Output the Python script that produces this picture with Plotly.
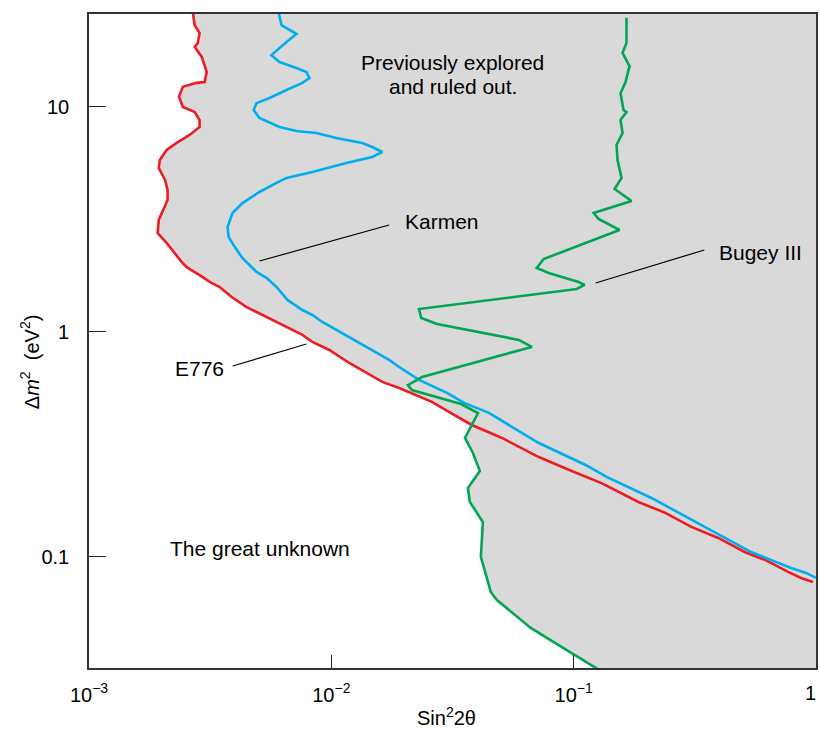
import math
import plotly.graph_objects as go

# ---------------- data ----------------
# E776 (red) exclusion contour
e776_sin2 = [2.68e-3, 2.73e-3, 2.86e-3, 2.81e-3, 2.73e-3, 2.92e-3, 3.06e-3, 3.00e-3, 2.78e-3, 2.44e-3,
             2.35e-3, 2.44e-3, 2.73e-3, 2.86e-3, 2.86e-3, 2.60e-3, 2.30e-3, 2.09e-3, 1.96e-3, 1.94e-3,
             2.06e-3, 2.11e-3, 2.11e-3, 2.00e-3, 1.94e-3, 1.92e-3, 2.09e-3, 2.41e-3, 2.53e-3, 2.86e-3,
             3.15e-3, 3.46e-3, 3.88e-3, 4.47e-3, 5.40e-3, 6.29e-3, 7.60e-3, 8.35e-3, 9.81e-3, 0.01186,
             0.01393, 0.01622, 0.01905, 0.0260, 0.0321, 0.0380, 0.0506, 0.0718, 0.0981, 0.1303,
             0.185, 0.239, 0.306, 0.395, 0.510, 0.617, 0.767, 0.868, 0.972]
e776_dm2 = [26.5, 23.1, 21.3, 19.2, 18.5, 16.7, 14.3, 12.9, 12.8, 12.3,
            11.1, 10.0, 9.50, 8.75, 8.15, 7.51, 6.92, 6.44, 5.81, 5.36,
            4.74, 4.28, 3.86, 3.42, 3.15, 2.75, 2.49, 2.05, 1.94, 1.79,
            1.67, 1.585, 1.43, 1.29, 1.166, 1.074, 0.970, 0.903, 0.832, 0.728,
            0.657, 0.600, 0.564, 0.489, 0.428, 0.386, 0.338, 0.278, 0.241, 0.213,
            0.1755, 0.157, 0.136, 0.1215, 0.105, 0.0970, 0.0858, 0.0807, 0.0774]

# Karmen (blue) exclusion contour
karmen_sin2 = [6.05e-3, 6.23e-3, 7.18e-3, 6.53e-3, 5.66e-3, 6.11e-3, 7.18e-3, 7.89e-3, 8.12e-3, 7.60e-3,
               6.53e-3, 5.56e-3, 4.91e-3, 4.78e-3, 5.05e-3, 6.11e-3, 7.18e-3, 8.68e-3, 0.01048, 0.01341,
               0.01475, 0.01622, 0.01475, 0.01153, 8.35e-3, 6.53e-3, 5.94e-3, 5.05e-3, 4.30e-3, 3.91e-3,
               3.73e-3, 3.77e-3, 3.99e-3, 4.30e-3, 4.91e-3, 5.40e-3, 5.94e-3, 6.59e-3, 7.60e-3, 8.35e-3,
               9.18e-3, 0.0100, 0.0111, 0.01303, 0.01532, 0.01732, 0.01905, 0.0230, 0.0300, 0.0353,
               0.0447, 0.0718, 0.1120, 0.1367, 0.2094, 0.3493, 0.540, 0.789, 0.910, 1.0]
karmen_dm2 = [26.5, 23.1, 21.1, 19.45, 17.0, 15.85, 14.9, 14.3, 13.45, 12.8,
              11.9, 10.96, 10.4, 9.70, 8.93, 8.15, 7.82, 7.66, 7.28, 6.92,
              6.64, 6.31, 6.00, 5.64, 5.14, 4.84, 4.60, 4.19, 3.74, 3.38,
              2.93, 2.64, 2.39, 2.13, 1.85, 1.74, 1.585, 1.388, 1.252, 1.19,
              1.108, 1.052, 0.990, 0.894, 0.815, 0.751, 0.699, 0.612, 0.536, 0.484,
              0.437, 0.321, 0.2564, 0.2268, 0.1829, 0.136, 0.1052, 0.0894, 0.0849, 0.0807]

# Bugey III (green) exclusion contour
bugey_sin2 = [0.1652, 0.1652, 0.1591, 0.1700, 0.1637, 0.1561, 0.1606, 0.1652, 0.1561, 0.1591,
              0.1503, 0.1517, 0.1576, 0.1475, 0.1733, 0.1209, 0.1267, 0.1546, 0.0752, 0.0704,
              0.0789, 0.1048, 0.1110, 0.1029, 0.0230, 0.0235, 0.0273, 0.0594, 0.0672, 0.0237,
              0.0207, 0.0215, 0.0343, 0.0403, 0.0356, 0.0384, 0.0410, 0.0366, 0.0373, 0.0422,
              0.0414, 0.0455, 0.0482, 0.0665, 0.0981, 0.1303]
bugey_dm2 = [24.9, 19.25, 17.4, 15.2, 12.9, 11.5, 9.70, 9.50, 8.75, 7.66,
             6.78, 5.81, 4.84, 4.32, 3.82, 3.38, 3.18, 2.84, 2.11, 1.925,
             1.83, 1.668, 1.618, 1.553, 1.265, 1.154, 1.085, 0.922, 0.858, 0.631,
             0.581, 0.552, 0.4786, 0.4365, 0.338, 0.290, 0.241, 0.2026, 0.1755, 0.143,
             0.100, 0.0699, 0.0644, 0.0484, 0.0374, 0.031]

# axis ranges and tick labels
x_range = [1e-3, 1.0]
y_range = [0.0321, 25.9]
x_tickvals = [1e-3, 1e-2, 1e-1, 1]
x_ticktext = ["10<sup>\u22123</sup>", "10<sup>\u22122</sup>", "10<sup>\u22121</sup>", "1"]
y_tickvals = [0.1, 1, 10]
y_ticktext = ["0.1", "1", "10"]

# index where the red E776 contour meets the green Bugey contour (boundary of the shaded area)
red_cut = 46
green_cut = 34

RED = "#ed1c24"
BLUE = "#00aeef"
GREEN = "#00a651"
GRAY = "#d9d9d9"
FONT = "Liberation Sans, Arial, sans-serif"

fig = go.Figure()

# shaded "previously explored" region: right of the red contour, then right of the green one
fill_x = e776_sin2[:red_cut] + bugey_sin2[green_cut:] + [x_range[1] * 1.05, x_range[1] * 1.05]
fill_y = e776_dm2[:red_cut] + bugey_dm2[green_cut:] + [y_range[0] * 0.9, y_range[1] * 1.1]
fig.add_trace(go.Scatter(x=fill_x, y=fill_y, mode="lines", fill="toself",
                         fillcolor=GRAY, line=dict(width=0), hoverinfo="skip", showlegend=False))

fig.add_trace(go.Scatter(x=e776_sin2, y=e776_dm2, mode="lines", name="E776",
                         line=dict(color=RED, width=2.6), showlegend=False))
fig.add_trace(go.Scatter(x=karmen_sin2, y=karmen_dm2, mode="lines", name="Karmen",
                         line=dict(color=BLUE, width=2.6), showlegend=False))
fig.add_trace(go.Scatter(x=bugey_sin2, y=bugey_dm2, mode="lines", name="Bugey III",
                         line=dict(color=GREEN, width=2.6), showlegend=False))

# plot area in pixels: x 89..818, y 14..668
L, R, T, B = 89, 818, 14, 668
W, H = R - L, B - T


def px(xp):
    return (xp - L) / W


def py(yp):
    return (B - yp) / H


# leader lines for labels
for (x0, y0, x1, y1) in [(260, 261, 390, 225), (233, 366, 307, 344), (597, 283, 706, 250)]:
    fig.add_shape(type="line", xref="paper", yref="paper",
                  x0=px(x0), y0=py(y0), x1=px(x1), y1=py(y1),
                  line=dict(color="black", width=1.2))

labels = [
    ("Previously explored", 453, 62),
    ("and ruled out.", 454, 87),
    ("Karmen", 443, 221),
    ("Bugey III", 762, 252),
    ("E776", 200, 368),
    ("The great unknown", 260, 548),
]
for txt, xp, yp in labels:
    fig.add_annotation(text=txt, xref="paper", yref="paper", x=px(xp), y=py(yp),
                       showarrow=False, xanchor="center", yanchor="middle",
                       font=dict(family=FONT, size=21, color="black"))

# y axis title (rotated)
fig.add_annotation(text="\u0394<i>m</i><sup>2</sup>  (eV<sup>2</sup>)", xref="paper", yref="paper",
                   x=px(30), y=py(362), showarrow=False, textangle=-90,
                   xanchor="center", yanchor="middle",
                   font=dict(family=FONT, size=20, color="black"))
# x axis title
fig.add_annotation(text="Sin<sup>2</sup>2\u03b8", xref="paper", yref="paper",
                   x=px(447), y=py(716), showarrow=False,
                   xanchor="center", yanchor="middle",
                   font=dict(family=FONT, size=20, color="black"))

# last x tick label sits on the right edge of the figure; the axis hides it, so pin it inside
fig.add_annotation(text=x_ticktext[-1], xref="paper", yref="paper",
                   x=px(820), y=py(693), showarrow=False,
                   xanchor="right", yanchor="middle",
                   font=dict(family=FONT, size=20, color="black"))

axis_common = dict(showgrid=False, zeroline=False, showline=True, linecolor="#333333",
                   linewidth=1.6, mirror=True, ticks="inside", tickcolor="#222222",
                   tickwidth=1.2, tickfont=dict(family=FONT, size=20, color="black"))

fig.update_xaxes(type="log", range=[math.log10(x_range[0]), math.log10(x_range[1])],
                 tickvals=x_tickvals, ticktext=x_ticktext, ticklen=13,
                 ticklabelstandoff=8, **axis_common)
fig.update_yaxes(type="log", range=[math.log10(y_range[0]), math.log10(y_range[1])],
                 tickvals=y_tickvals, ticktext=y_ticktext, ticklen=17,
                 ticklabelstandoff=14, **axis_common)

fig.update_layout(width=820, height=730,
                  margin=dict(l=L, r=820 - R, t=T, b=730 - B, pad=0),
                  paper_bgcolor="white", plot_bgcolor="white",
                  font=dict(family=FONT, color="black"),
                  showlegend=False)

fig.write_html("out.html", config={"displayModeBar": False},
               post_script="document.body.style.margin='0';document.body.style.overflow='hidden';")
